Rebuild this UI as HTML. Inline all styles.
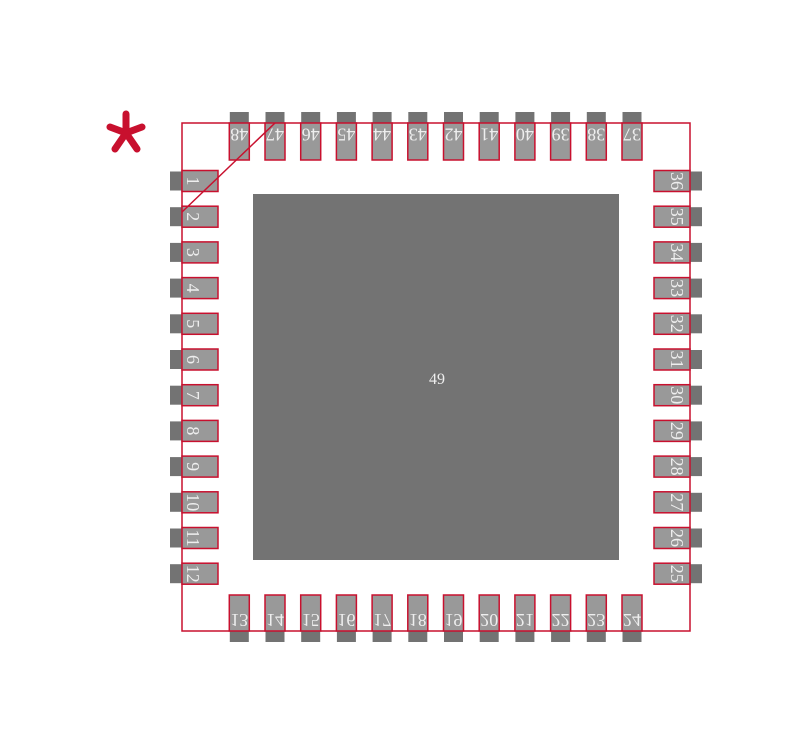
<!DOCTYPE html>
<html><head><style>html,body{margin:0;padding:0;background:#fff}svg{display:block}</style></head><body>
<svg width="800" height="733" viewBox="0 0 800 733" xmlns="http://www.w3.org/2000/svg">
<defs>
<g id="tp"><rect x="-9.5" y="112" width="19" height="11" fill="#737373"/><rect x="-10" y="123" width="20" height="37" fill="#999" stroke="#c8102e" stroke-width="1.5"/></g>
<g id="bp"><rect x="-9.5" y="631" width="19" height="11" fill="#737373"/><rect x="-10" y="595" width="20" height="36" fill="#999" stroke="#c8102e" stroke-width="1.5"/></g>
<g id="lp"><rect x="170" y="-9.5" width="12" height="19" fill="#737373"/><rect x="182" y="-10.5" width="36" height="21" fill="#999" stroke="#c8102e" stroke-width="1.5"/></g>
<g id="rp"><rect x="690" y="-9.5" width="12" height="19" fill="#737373"/><rect x="654" y="-10.5" width="36" height="21" fill="#999" stroke="#c8102e" stroke-width="1.5"/></g>
</defs>
<rect x="253" y="194" width="366" height="366" fill="#737373"/>
<text x="437" y="384" font-family="Liberation Serif, serif" font-size="16" fill="#eee" text-anchor="middle">49</text>
<rect x="182" y="123" width="508" height="508" fill="none" stroke="#c8102e" stroke-width="1.5"/>
<g font-family="Liberation Serif, serif" font-size="18" fill="#eee" text-anchor="middle">
<use href="#tp" x="239.3"/><use href="#tp" x="275"/><use href="#tp" x="310.7"/><use href="#tp" x="346.4"/><use href="#tp" x="382.1"/><use href="#tp" x="417.8"/><use href="#tp" x="453.5"/><use href="#tp" x="489.2"/><use href="#tp" x="524.9"/><use href="#tp" x="560.6"/><use href="#tp" x="596.3"/><use href="#tp" x="632"/>
<use href="#bp" x="239.3"/><use href="#bp" x="275"/><use href="#bp" x="310.7"/><use href="#bp" x="346.4"/><use href="#bp" x="382.1"/><use href="#bp" x="417.8"/><use href="#bp" x="453.5"/><use href="#bp" x="489.2"/><use href="#bp" x="524.9"/><use href="#bp" x="560.6"/><use href="#bp" x="596.3"/><use href="#bp" x="632"/>
<use href="#lp" y="181"/><use href="#lp" y="216.7"/><use href="#lp" y="252.4"/><use href="#lp" y="288.1"/><use href="#lp" y="323.8"/><use href="#lp" y="359.5"/><use href="#lp" y="395.2"/><use href="#lp" y="430.9"/><use href="#lp" y="466.6"/><use href="#lp" y="502.3"/><use href="#lp" y="538"/><use href="#lp" y="573.7"/>
<use href="#rp" y="181"/><use href="#rp" y="216.7"/><use href="#rp" y="252.4"/><use href="#rp" y="288.1"/><use href="#rp" y="323.8"/><use href="#rp" y="359.5"/><use href="#rp" y="395.2"/><use href="#rp" y="430.9"/><use href="#rp" y="466.6"/><use href="#rp" y="502.3"/><use href="#rp" y="538"/><use href="#rp" y="573.7"/>

<text transform="translate(239.3,128.5) rotate(180)">48</text>
<text transform="translate(275,128.5) rotate(180)">47</text>
<text transform="translate(310.7,128.5) rotate(180)">46</text>
<text transform="translate(346.4,128.5) rotate(180)">45</text>
<text transform="translate(382.1,128.5) rotate(180)">44</text>
<text transform="translate(417.8,128.5) rotate(180)">43</text>
<text transform="translate(453.5,128.5) rotate(180)">42</text>
<text transform="translate(489.2,128.5) rotate(180)">41</text>
<text transform="translate(524.9,128.5) rotate(180)">40</text>
<text transform="translate(560.6,128.5) rotate(180)">39</text>
<text transform="translate(596.3,128.5) rotate(180)">38</text>
<text transform="translate(632,128.5) rotate(180)">37</text>

<text transform="translate(239.3,614) scale(1,-1)">13</text>
<text transform="translate(275,614) scale(1,-1)">14</text>
<text transform="translate(310.7,614) scale(1,-1)">15</text>
<text transform="translate(346.4,614) scale(1,-1)">16</text>
<text transform="translate(382.1,614) scale(1,-1)">17</text>
<text transform="translate(417.8,614) scale(1,-1)">18</text>
<text transform="translate(453.5,614) scale(1,-1)">19</text>
<text transform="translate(489.2,614) scale(1,-1)">20</text>
<text transform="translate(524.9,614) scale(1,-1)">21</text>
<text transform="translate(560.6,614) scale(1,-1)">22</text>
<text transform="translate(596.3,614) scale(1,-1)">23</text>
<text transform="translate(632,614) scale(1,-1)">24</text>

<text transform="translate(187,181) rotate(90)">1</text>
<text transform="translate(187,216.7) rotate(90)">2</text>
<text transform="translate(187,252.4) rotate(90)">3</text>
<text transform="translate(187,288.1) rotate(90)">4</text>
<text transform="translate(187,323.8) rotate(90)">5</text>
<text transform="translate(187,359.5) rotate(90)">6</text>
<text transform="translate(187,395.2) rotate(90)">7</text>
<text transform="translate(187,430.9) rotate(90)">8</text>
<text transform="translate(187,466.6) rotate(90)">9</text>
<text transform="translate(187,502.3) rotate(90)">10</text>
<text transform="translate(187,538) rotate(90)">11</text>
<text transform="translate(187,573.7) rotate(90)">12</text>

<text transform="translate(671,181) rotate(90)">36</text>
<text transform="translate(671,216.7) rotate(90)">35</text>
<text transform="translate(671,252.4) rotate(90)">34</text>
<text transform="translate(671,288.1) rotate(90)">33</text>
<text transform="translate(671,323.8) rotate(90)">32</text>
<text transform="translate(671,359.5) rotate(90)">31</text>
<text transform="translate(671,395.2) rotate(90)">30</text>
<text transform="translate(671,430.9) rotate(90)">29</text>
<text transform="translate(671,466.6) rotate(90)">28</text>
<text transform="translate(671,502.3) rotate(90)">27</text>
<text transform="translate(671,538) rotate(90)">26</text>
<text transform="translate(671,573.7) rotate(90)">25</text>
</g>
<line x1="275" y1="123" x2="182" y2="212" stroke="#c8102e" stroke-width="1.5"/>
<g stroke="#c8102e" stroke-width="7" stroke-linecap="round">
<line x1="126" y1="133" x2="126" y2="114"/>
<line x1="126" y1="133" x2="110" y2="127"/>
<line x1="126" y1="133" x2="142" y2="127"/>
<line x1="126" y1="133" x2="115" y2="149"/>
<line x1="126" y1="133" x2="137" y2="149"/>
</g>
</svg>
</body></html>
